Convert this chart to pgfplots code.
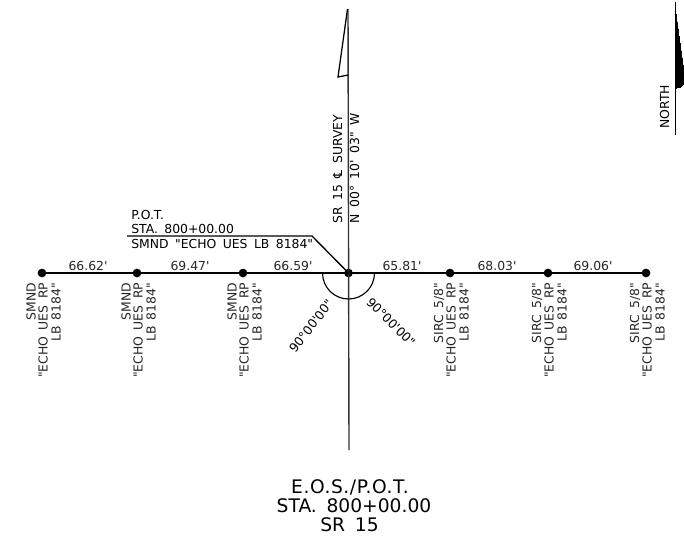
\documentclass[border=0pt]{standalone}
\usepackage{pgfplots}
\pgfplotsset{compat=1.18}
\usepackage{fontspec}
\newfontfamily\cad{DejaVu Sans}

% the sheet is laid out in reference pixels, y running down
\newcommand{\smalltxt}{\cad\fontsize{9.3pt}{11pt}\selectfont}
\newcommand{\bigtxt}{\cad\fontsize{14pt}{15pt}\selectfont}
\newcommand{\g}{\hspace{0.52em}}
\newcommand{\monument}[4]{% x, line 1, line 2, line 3
  \node[rotate=90,anchor=east,inner sep=0pt,font=\smalltxt,text=black!85] at (axis cs:#1-11,282.5) {#2};
  \node[rotate=90,anchor=east,inner sep=0pt,font=\smalltxt,text=black!85] at (axis cs:#1+1,282.5) {#3};
  \node[rotate=90,anchor=east,inner sep=0pt,font=\smalltxt,text=black!85] at (axis cs:#1+14,282.5) {#4};
}
\newcommand{\dist}[2]{%
  \node[anchor=south,inner sep=0pt,font=\smalltxt,text=black!85] at (axis cs:#1,271) {#2};
}

\begin{document}
\begin{tikzpicture}
  \path[use as bounding box] (0,0) rectangle (513pt,405pt);
  \begin{axis}[
    scale only axis,
    width=513pt,
    height=405pt,
    xmin=0, xmax=684,
    ymin=0, ymax=540,
    y dir=reverse,
    hide axis,
    clip=true,
    clip mode=individual,
    every node/.append style={text=black!85},
  ]
    % baseline with the monuments
    \addplot[black, line width=1.05pt, mark=*, mark size=2.7pt, mark options={fill=black}]
      coordinates {(42,273) (137,273) (243,273) (348.5,273) (450,273) (548,273) (646,273)};

    % survey line and flag
    \addplot[black!80, line width=1.05pt] coordinates {(348,9) (349,450)};
    \addplot[black, line width=0.95pt] coordinates {(347.5,9) (338,77) (348,75)};

    % leader to the P.O.T.
    \addplot[black, line width=1pt] coordinates {(127,236) (312,236) (348.5,273)};

    % north arrow
    \addplot[black, line width=0.9pt] coordinates {(675.7,2) (675.7,135)};
    \addplot[black, fill=black, line width=0pt] coordinates {(676,14) (684,72) (684,84) (680,87.5) (676,88) (676,14)};

    % right angle arc
    \draw[black, line width=0.85pt] (axis cs:322.5,273) arc[start angle=180, end angle=360, radius=19.5pt];

    \dist{88}{66.62'}
    \dist{190}{69.47'}
    \dist{293}{66.59'}
    \dist{402}{65.81'}
    \dist{497}{68.03'}
    \dist{593}{69.06'}

    \monument{42}{SMND}{"ECHO\g UES\g RP}{LB\g 8184"}
    \monument{137}{SMND}{"ECHO\g UES\g RP}{LB\g 8184"}
    \monument{243}{SMND}{"ECHO\g UES\g RP}{LB\g 8184"}
    \monument{450}{SIRC\g 5/8"}{"ECHO\g UES\g RP}{LB\g 8184"}
    \monument{548}{SIRC\g 5/8"}{"ECHO\g UES\g RP}{LB\g 8184"}
    \monument{646}{SIRC\g 5/8"}{"ECHO\g UES\g RP}{LB\g 8184"}

    \node[anchor=base west,inner sep=0pt,font=\smalltxt] at (axis cs:131,219.5) {P.O.T.};
    \node[anchor=base west,inner sep=0pt,font=\smalltxt] at (axis cs:131,233) {STA.\g 800+00.00};
    \node[anchor=base west,inner sep=0pt,font=\smalltxt] at (axis cs:131,248) {SMND\g "ECHO\g UES\g LB\g 8184"};

    \node[rotate=90,anchor=base west,inner sep=0pt,font=\smalltxt] at (axis cs:342,223.5) {SR\g 15\g ℄\g SURVEY};
    \node[rotate=90,anchor=base west,inner sep=0pt,font=\smalltxt] at (axis cs:359,223.5) {N\g 00°\g 10'\g 03"\g W};
    \node[rotate=90,anchor=base west,inner sep=0pt,font=\smalltxt] at (axis cs:669,129) {NORTH};

    \node[rotate=52,anchor=center,inner sep=0pt,font=\smalltxt] at (axis cs:311,326) {90°00'00"};
    \node[rotate=-45,anchor=center,inner sep=0pt,font=\smalltxt] at (axis cs:391,322) {90°00'00"};

    \node[anchor=center,inner sep=0pt,font=\bigtxt] at (axis cs:350,487) {\addfontfeature{LetterSpace=3}E.O.S./P.O.T.};
    \node[anchor=center,inner sep=0pt,font=\bigtxt] at (axis cs:354,506) {STA.\g 800+00.00};
    \node[anchor=center,inner sep=0pt,font=\bigtxt] at (axis cs:349.5,525) {SR\g 15};
  \end{axis}
\end{tikzpicture}
\end{document}
